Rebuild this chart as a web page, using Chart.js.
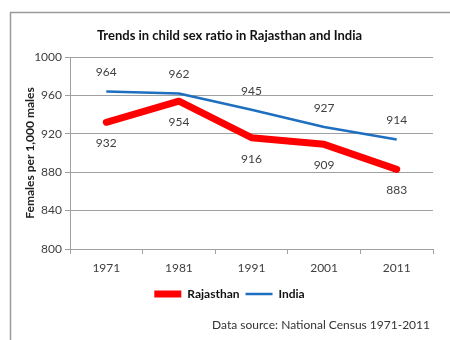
<!DOCTYPE html>
<html>
<head>
<meta charset="utf-8">
<script src="https://cdn.jsdelivr.net/npm/chart.js@4"></script>
<style>
  html, body { margin: 0; padding: 0; background: #fff; }
  #wrap { width: 450px; height: 340px; }
</style>
</head>
<body>
<div id="wrap"><canvas id="grafico"></canvas></div>
<script>
// Censos
const anios = ['1971', '1981', '1991', '2001', '2011'];
const rajasthan = [932, 954, 916, 909, 883];
const india = [964, 962, 945, 927, 914];
const ticksY = [800, 840, 880, 920, 960, 1000];

const gris = '#a0a0a0';
const texto = '#404040';

// Marco, etiquetas de valores y fuente de datos
const extras = {
    id: 'extras',
    beforeDraw(chart) {
        const ctx = chart.ctx;
        ctx.save();
        ctx.fillStyle = '#fff';
        ctx.fillRect(0, 0, chart.width, chart.height);
        ctx.strokeStyle = '#9a9a9a';
        ctx.lineWidth = 1.5;
        ctx.beginPath();
        ctx.moveTo(10.5, chart.height + 2);
        ctx.lineTo(10.5, 12.5);
        ctx.lineTo(chart.width + 2, 12.5);
        ctx.stroke();
        ctx.restore();
    },
    afterDatasetsDraw(chart) {
        const ctx = chart.ctx;
        ctx.save();
        ctx.font = '12px Lato';
        ctx.fillStyle = texto;
        ctx.textAlign = 'center';
        ctx.textBaseline = 'middle';
        chart.data.datasets.forEach((ds, i) => {
            const meta = chart.getDatasetMeta(i);
            const dy = ds.label === 'India' ? -19 : 21;
            meta.data.forEach((p, j) => {
                ctx.fillText(ds.data[j], p.x, p.y + dy);
            });
        });
        ctx.font = '12px Lato';
        ctx.fillStyle = '#333';
        ctx.textAlign = 'right';
        ctx.fillText('Data source: National Census 1971-2011', 430, 325);
        ctx.restore();
    }
};

new Chart(document.getElementById('grafico').getContext('2d'), {
    type: 'line',
    data: {
        labels: anios,
        datasets: [{
                label: 'Rajasthan',
                data: rajasthan,
                borderColor: '#ff0000',
                backgroundColor: '#ff0000',
                borderWidth: 7,
                pointRadius: 0,
                borderCapStyle: 'round',
                borderJoinStyle: 'round',
            },
            {
                label: 'India',
                data: india,
                borderColor: '#1f6fc0',
                backgroundColor: '#1f6fc0',
                borderWidth: 2.5,
                pointRadius: 0,
                borderJoinStyle: 'round',
            }
        ]
    },
    options: {
        responsive: true,
        maintainAspectRatio: false,
        animation: false,
        layout: {
            padding: { left: 26, right: 17, top: 0, bottom: 30 }
        },
        scales: {
            x: {
                offset: true,
                grid: {
                    offset: true,
                    drawOnChartArea: false,
                    color: gris,
                    tickLength: 5,
                },
                border: { color: gris },
                ticks: {
                    color: texto,
                    padding: 11,
                    font: { family: 'Lato', size: 12, lineHeight: 0.5 },
                }
            },
            y: {
                min: 800,
                max: 1000,
                afterBuildTicks: scale => {
                    scale.ticks = ticksY.map(v => ({ value: v }));
                },
                afterFit: scale => {
                    scale.width = 44;
                },
                grid: {
                    color: gris,
                    tickLength: 5,
                },
                border: { color: gris },
                ticks: {
                    color: texto,
                    padding: 3,
                    font: { family: 'Lato', size: 12 },
                    callback: v => String(v),
                },
                title: {
                    display: true,
                    text: 'Females per 1,000 males',
                    color: '#222',
                    padding: { top: -3, bottom: 0 },
                    font: { family: 'Lato', size: 12, weight: 'bold' },
                }
            }
        },
        plugins: {
            title: {
                display: true,
                text: 'Trends in child sex ratio in Rajasthan and India',
                color: '#111',
                padding: { top: 28, bottom: 13.4 },
                font: { family: 'Lato', size: 13, weight: 'bold' },
            },
            legend: {
                position: 'bottom',
                align: 'center',
                labels: {
                    usePointStyle: true,
                    pointStyle: 'line',
                    pointStyleWidth: 27,
                    color: '#111',
                    padding: 6,
                    font: { family: 'Lato', size: 12, weight: 'bold' },
                }
            },
            tooltip: { enabled: false }
        }
    },
    plugins: [extras]
});
</script>
</body>
</html>
